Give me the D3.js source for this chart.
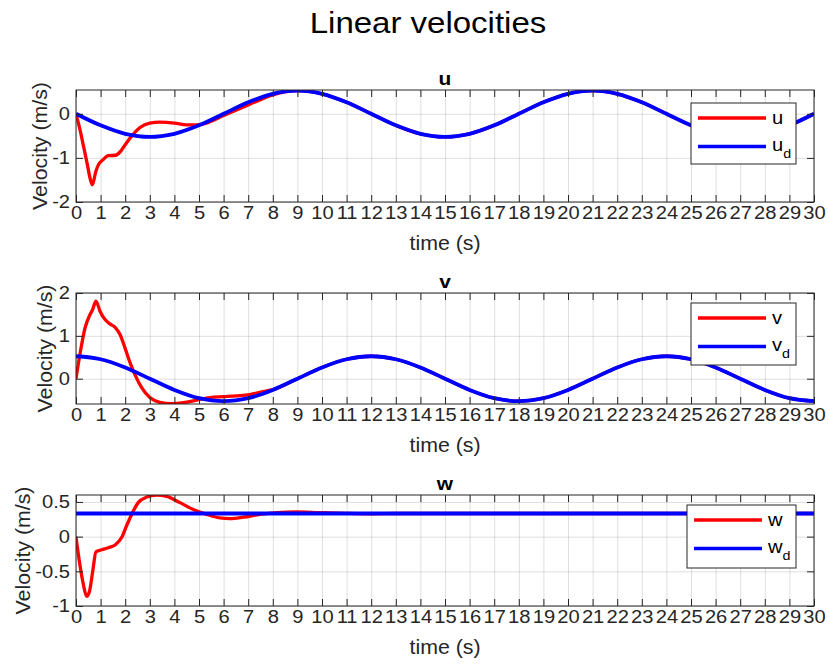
<!DOCTYPE html>
<html>
<head>
<meta charset="utf-8">
<script src="https://cdn.jsdelivr.net/npm/d3@7"></script>
<style>
  body { margin: 0; background: #fff; }
  svg { display: block; font-family: "Liberation Sans", Arial, Helvetica, sans-serif; }
</style>
</head>
<body>
<div id="chart"></div>
<script>
// desired trajectories, sampled every second
const timeDesired = [0, 1, 2, 3, 4, 5, 6, 7, 8, 9, 10, 11, 12, 13, 14, 15, 16, 17, 18, 19, 20,
  21, 22, 23, 24, 25, 26, 27, 28, 29, 30];
const uDesired = [0, -0.262, -0.454, -0.524, -0.454, -0.262, 0, 0.262, 0.454, 0.524, 0.454,
  0.262, 0, -0.262, -0.454, -0.524, -0.454, -0.262, 0, 0.262, 0.454,
  0.524, 0.454, 0.262, 0, -0.262, -0.454, -0.524, -0.454, -0.262, 0];
const vDesired = [0.524, 0.454, 0.262, 0, -0.262, -0.454, -0.524, -0.454, -0.262, 0, 0.262,
  0.454, 0.524, 0.454, 0.262, 0, -0.262, -0.454, -0.524, -0.454, -0.262,
  0, 0.262, 0.454, 0.524, 0.454, 0.262, 0, -0.262, -0.454, -0.524];
const wDesiredTime = [0, 30];
const wDesired = [0.333, 0.333];

// measured velocities
const uTime = [0, 0.15, 0.3, 0.45, 0.58, 0.66, 0.72, 0.8, 0.9, 1.1, 1.3, 1.6, 1.8, 2.05, 2.33,
  2.6, 3, 3.4, 4, 4.5, 4.9, 5.3, 6, 7, 8, 9, 10, 11, 12, 13, 14, 15, 16, 17, 18, 19, 20,
  21, 22, 23, 24, 25, 26, 27, 28, 29, 30];
const uActual = [0, -0.33, -0.72, -1.12, -1.48, -1.61, -1.52, -1.32, -1.17, -1.04, -0.95, -0.94,
  -0.86, -0.66, -0.46, -0.31, -0.21, -0.19, -0.21, -0.25, -0.25, -0.21, -0.04, 0.2, 0.43, 0.524,
  0.454, 0.262, 0, -0.262, -0.454, -0.524, -0.454, -0.262, 0, 0.262, 0.454,
  0.524, 0.454, 0.262, 0, -0.262, -0.454, -0.524, -0.454, -0.262, 0];

const vTime = [0, 0.16, 0.37, 0.54, 0.68, 0.81, 0.98, 1.18, 1.38, 1.59, 1.79, 1.99, 2.2, 2.4,
  2.67, 3, 3.41, 3.89, 4.36, 4.9, 5.45, 6, 6.53, 7.07, 7.6, 8, 9, 10, 11, 12, 13, 14, 15, 16,
  17, 18, 19, 20, 21, 22, 23, 24, 25, 26, 27, 28, 29, 30];
const vActual = [0, 0.57, 1.19, 1.46, 1.62, 1.81, 1.57, 1.38, 1.28, 1.2, 1.03, 0.72, 0.37, 0.09,
  -0.21, -0.44, -0.55, -0.58, -0.56, -0.5, -0.44, -0.42, -0.4, -0.37, -0.3, -0.255, 0, 0.262,
  0.454, 0.524, 0.454, 0.262, 0, -0.262, -0.454, -0.524, -0.454, -0.262,
  0, 0.262, 0.454, 0.524, 0.454, 0.262, 0, -0.262, -0.454, -0.524];

const wTime = [0, 0.16, 0.3, 0.43, 0.54, 0.68, 0.81, 1.04, 1.31, 1.59, 1.86, 2.06, 2.26, 2.53,
  2.87, 3.28, 3.69, 4.23, 4.77, 5.31, 5.85, 6.26, 6.8, 7.48, 8.16, 8.97, 9.9, 11, 12, 13, 30];
const wActual = [0, -0.41, -0.69, -0.86, -0.8, -0.5, -0.22, -0.19, -0.16, -0.12, -0.01, 0.16, 0.32,
  0.49, 0.57, 0.6, 0.58, 0.49, 0.39, 0.32, 0.27, 0.26, 0.28, 0.32, 0.345, 0.355, 0.345, 0.335,
  0.33, 0.333, 0.333];

// ticks
const xTicks = [0, 1, 2, 3, 4, 5, 6, 7, 8, 9, 10, 11, 12, 13, 14, 15, 16, 17, 18, 19, 20,
  21, 22, 23, 24, 25, 26, 27, 28, 29, 30];
const uTicks = [-2, -1, 0];
const vTicks = [0, 1, 2];
const wTicks = [-1, -0.5, 0, 0.5];

const W = 828, H = 666;
const left = 76, right = 814;
const SX = 1.1;            // text in the figure is rendered a bit wide
const axisColor = '#262626';
const tickFont = 18.3, labelFont = 19.4;

const zip = (t, v) => t.map((d, i) => [d, v[i]]);

const panels = [
  {name: 'u', top: 90, bottom: 202, domain: [-2, 0.54], ticks: uTicks, ylabelX: 47,
   legend: {x: 691, y: 103, w: 105, h: 61},
   actual: zip(uTime, uActual), desired: zip(timeDesired, uDesired)},
  {name: 'v', top: 293, bottom: 404, domain: [-0.59, 2], ticks: vTicks, ylabelX: 52,
   legend: {x: 691, y: 303, w: 105, h: 62},
   actual: zip(vTime, vActual), desired: zip(timeDesired, vDesired)},
  {name: 'w', top: 495, bottom: 606, domain: [-1, 0.6], ticks: wTicks, ylabelX: 30,
   legend: {x: 687, y: 505, w: 109, h: 63},
   actual: zip(wTime, wActual), desired: zip(wDesiredTime, wDesired)}
];

const svg = d3.select('#chart').append('svg')
    .attr('width', W)
    .attr('height', H);

const x = d3.scaleLinear().domain([0, 30]).range([left, right]);

function placeText(sel, px, py, rot) {
  return sel.attr('transform', `translate(${px},${py})${rot ? ' rotate(-90)' : ''} scale(${SX},1)`);
}

placeText(svg.append('text'), 428, 33, false)
    .attr('text-anchor', 'middle')
    .attr('font-size', 30)
    .attr('fill', '#000')
    .text('Linear velocities');

function styleAxis(a) {
  a.attr('font-family', null).attr('font-size', null);
  a.select('.domain').remove();
  a.selectAll('line').attr('stroke', axisColor);
  a.selectAll('text').attr('fill', axisColor).attr('font-size', tickFont);
}

panels.forEach((p, idx) => {
  const y = d3.scaleLinear().domain(p.domain).range([p.bottom, p.top]);
  const ph = p.bottom - p.top;
  const g = svg.append('g');

  // grid
  g.append('g')
      .attr('transform', `translate(0,${p.bottom})`)
      .call(d3.axisBottom(x).tickValues(xTicks).tickSize(-ph).tickFormat(''))
      .call(a => a.select('.domain').remove())
      .selectAll('line').attr('stroke', axisColor).attr('stroke-opacity', 0.15);
  g.append('g')
      .attr('transform', `translate(${left},0)`)
      .call(d3.axisLeft(y).tickValues(p.ticks).tickSize(-(right - left)).tickFormat(''))
      .call(a => a.select('.domain').remove())
      .selectAll('line').attr('stroke', axisColor).attr('stroke-opacity', 0.15);

  // data
  g.append('clipPath').attr('id', 'clip' + idx)
    .append('rect')
      .attr('x', left).attr('y', p.top)
      .attr('width', right - left).attr('height', ph);

  const line = d3.line()
      .x(d => x(d[0]))
      .y(d => y(d[1]))
      .curve(d3.curveMonotoneX);

  const lines = g.append('g').attr('clip-path', `url(#clip${idx})`);
  lines.append('path')
      .attr('d', line(p.actual))
      .attr('fill', 'none')
      .attr('stroke', '#ff0000')
      .attr('stroke-width', 3.3)
      .attr('stroke-linejoin', 'round');
  lines.append('path')
      .attr('d', line(p.desired))
      .attr('fill', 'none')
      .attr('stroke', '#0000ff')
      .attr('stroke-width', 3.8)
      .attr('stroke-linejoin', 'round');

  // axes with inward ticks
  g.append('g')
      .attr('transform', `translate(0,${p.bottom})`)
      .call(d3.axisBottom(x).tickValues(xTicks).tickSizeInner(-7).tickSizeOuter(0).tickPadding(4))
      .call(styleAxis)
      .selectAll('text').attr('transform', `scale(${SX},1)`);
  g.append('g')
      .attr('transform', `translate(0,${p.top})`)
      .call(d3.axisTop(x).tickValues(xTicks).tickSizeInner(-7).tickSizeOuter(0).tickFormat(''))
      .call(styleAxis);
  g.append('g')
      .attr('transform', `translate(${left},0)`)
      .call(d3.axisLeft(y).tickValues(p.ticks).tickSizeInner(-7).tickSizeOuter(0)
          .tickFormat(d => String(d)))
      .call(styleAxis)
      .selectAll('text')
      .attr('x', -6 / SX)
      .attr('transform', `scale(${SX},1)`);
  g.append('g')
      .attr('transform', `translate(${right},0)`)
      .call(d3.axisRight(y).tickValues(p.ticks).tickSizeInner(-7).tickSizeOuter(0).tickFormat(''))
      .call(styleAxis);

  g.append('rect')
      .attr('x', left).attr('y', p.top)
      .attr('width', right - left).attr('height', ph)
      .attr('fill', 'none')
      .attr('stroke', axisColor)
      .attr('stroke-width', 1);

  // titles and labels
  placeText(g.append('text'), (left + right) / 2, p.top - 5, false)
      .attr('text-anchor', 'middle')
      .attr('font-size', 19)
      .attr('font-weight', 'bold')
      .attr('fill', '#000')
      .text(p.name);
  placeText(g.append('text'), (left + right) / 2, p.bottom + 48, false)
      .attr('text-anchor', 'middle')
      .attr('font-size', labelFont)
      .attr('fill', axisColor)
      .text('time (s)');
  placeText(g.append('text'), p.ylabelX, (p.top + p.bottom) / 2, true)
      .attr('text-anchor', 'middle')
      .attr('font-size', labelFont)
      .attr('fill', axisColor)
      .text('Velocity (m/s)');

  // legend
  const lg = g.append('g').attr('transform', `translate(${p.legend.x},${p.legend.y})`);
  lg.append('rect')
      .attr('width', p.legend.w).attr('height', p.legend.h)
      .attr('fill', '#fff')
      .attr('stroke', axisColor);
  const entries = [
    {label: p.name, sub: null, color: '#ff0000'},
    {label: p.name, sub: 'd', color: '#0000ff'}
  ];
  entries.forEach((e, i) => {
    const ly = 15 + i * 28.5;
    lg.append('line')
        .attr('x1', 7).attr('x2', 75)
        .attr('y1', ly).attr('y2', ly)
        .attr('stroke', e.color)
        .attr('stroke-width', 3.3);
    const t = placeText(lg.append('text'), 81, ly + (e.sub ? 4 : 6), false)
        .attr('font-size', tickFont)
        .attr('fill', '#000');
    t.append('tspan').text(e.label);
    if (e.sub) t.append('tspan').attr('font-size', 13).attr('dy', 7).text(e.sub);
  });
});
</script>
</body>
</html>
